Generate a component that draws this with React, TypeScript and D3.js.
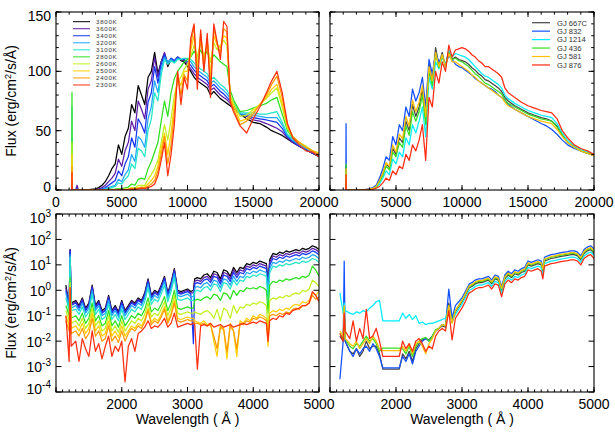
import React from "react";
import * as d3 from "d3";

const FONT = '"Liberation Sans", Arial, Helvetica, sans-serif';

// ---------- names / colours ----------
const modelNames = ["3800K", "3600K", "3400K", "3200K", "3100K", "2800K", "2600K", "2500K", "2400K", "2300K"];
const modelColors = ["#000000", "#5c1ea8", "#1634f0", "#1ea6ff", "#22e6c8", "#2ee020", "#c2f01e", "#ffd000", "#ff9a00", "#ff3010"];
const starNames = ["GJ 667C", "GJ 832", "GJ 1214", "GJ 436", "GJ 581", "GJ 876"];
const starColors = ["#444444", "#1250ff", "#00eeff", "#36e020", "#ffbe00", "#ff2a10"];

// ---------- optical / NIR grid (Angstrom) ----------
const wlTop = [1150, 1200, 1216, 1235, 1500, 1600, 1700, 2500,
  3000, 3250, 3500, 3750, 4000, 4250, 4500, 4750, 5000, 5250, 5500, 5750, 6000, 6250, 6500, 6750,
  7000, 7250, 7500, 7750, 8000, 8250, 8500, 8750, 9000, 9250, 9500, 9750, 10000, 10250, 10500, 10750,
  11000, 11250, 11500, 11750, 12000, 12250, 12500, 12750, 13000, 13250, 13500,
  14000, 14500, 15000, 15500, 16000, 16400, 16800, 17200, 17600, 18000, 18500, 19000, 19500, 20000];

// model fluxes (linear)
const f3800 = [0, 0, 5, 0, 0, 0.5, 0, 0.3,
  1, 2, 4, 7, 12, 18, 22, 38, 30, 45, 52, 72, 65, 88, 80, 72, 95, 100, 116, 98, 108, 115, 104, 110, 108, 112, 109, 108, 104, 100, 95, 92, 90, 88, 86, 80, 83, 80, 77, 75, 73, 71, 69,
  64, 60, 57, 56, 53, 50, 48, 46, 43, 40, 37, 34, 31, 28];
const f3600 = [0, 0, 8, 0, 0, 4, 0, 0.2,
  0.5, 1, 2, 4, 7, 10, 14, 26, 20, 33, 40, 58, 50, 75, 68, 60, 85, 92, 112, 95, 108, 116, 106, 111, 109, 112, 110, 109, 106, 102, 98, 95, 93, 91, 89, 84, 86, 83, 80, 78, 76, 73, 70,
  64, 62, 59, 58, 56, 54, 52, 49, 44, 40, 37, 34, 31, 29];
const f3400 = [0, 0, 10, 0, 0, 1, 0, 0.1,
  0.3, 0.6, 1, 2, 4, 6, 8, 16, 12, 22, 28, 44, 36, 60, 55, 48, 74, 82, 104, 90, 106, 114, 107, 111, 109, 112, 110, 110, 108, 105, 101, 98, 96, 94, 92, 87, 89, 86, 83, 81, 78, 75, 72,
  64, 63, 61, 60, 59, 58, 57, 52, 45, 41, 37, 34, 31, 29];
const f3200 = [0, 0, 20, 0, 0, 0.5, 0, 0.1,
  0.2, 0.3, 0.6, 1, 2, 3, 4, 9, 7, 13, 17, 30, 24, 45, 42, 36, 60, 70, 92, 82, 102, 112, 108, 110, 108, 111, 110, 111, 110, 108, 104, 101, 99, 97, 95, 90, 92, 89, 86, 84, 81, 77, 73,
  64, 64, 63, 62, 61, 61, 61, 55, 46, 42, 38, 35, 32, 30];
const f3100 = [0, 0, 70, 0, 0, 0.3, 0, 0,
  0.1, 0.2, 0.4, 0.7, 1.2, 2, 3, 6, 5, 9, 12, 22, 18, 35, 33, 28, 50, 60, 82, 75, 97, 110, 106, 109, 107, 110, 110, 111, 111, 110, 107, 104, 102, 100, 98, 93, 95, 92, 89, 87, 84, 79, 74,
  65, 65, 65, 64, 64, 65, 66, 57, 47, 43, 39, 36, 33, 30];
const f2800 = [0, 0, 82, 0, 0, 0.2, 0, 0,
  0, 0, 0.1, 0.2, 0.3, 0.5, 0.7, 1.2, 1, 1.8, 2.5, 5, 4, 9, 10, 9, 18, 24, 32, 40, 58, 75, 62, 82, 94, 100, 104, 108, 110, 112, 117, 113, 118, 112, 117, 108, 114, 111, 108, 106, 104, 84, 76,
  66, 67, 69, 71, 73, 76, 78, 64, 50, 44, 40, 36, 33, 31];
const f2600 = [0, 0, 40, 0, 0, 0, 0, 0,
  0, 0, 0, 0.1, 0.1, 0.2, 0.3, 0.5, 0.4, 0.7, 1, 2, 1.5, 4, 4, 4, 9, 13, 18, 25, 40, 55, 42, 60, 80, 92, 95, 102, 106, 113, 122, 112, 124, 113, 122, 108, 124, 118, 122, 126, 122, 80, 73,
  62, 63, 68, 72, 77, 82, 86, 70, 52, 45, 40, 37, 33, 31];
const f2500 = [0, 0, 30, 0, 0, 0, 0, 0,
  0, 0, 0, 0, 0.1, 0.1, 0.2, 0.4, 0.3, 0.6, 0.8, 1.6, 1.2, 2, 2.5, 2.5, 5, 8, 12, 20, 35, 48, 30, 48, 72, 95, 88, 100, 100, 118, 130, 105, 130, 108, 125, 98, 130, 122, 120, 130, 128, 78, 71,
  58, 60, 66, 72, 78, 85, 89, 73, 53, 45, 40, 36, 33, 31];
const f2400 = [0, 0, 20, 0, 0, 0, 0, 0,
  0, 0, 0, 0, 0, 0.1, 0.1, 0.3, 0.2, 0.4, 0.6, 1.2, 0.8, 1.5, 2, 1.8, 3, 5, 8, 16, 30, 45, 22, 38, 65, 98, 80, 97, 92, 122, 138, 95, 132, 102, 128, 88, 136, 124, 115, 136, 133, 76, 68,
  55, 58, 64, 72, 80, 89, 96, 78, 55, 45, 40, 36, 33, 30];
const f2300 = [0, 0, 15, 0, 0, 0, 0, 0,
  0, 0, 0, 0, 0, 0, 0.1, 0.2, 0.1, 0.3, 0.4, 0.8, 0.5, 1, 1.5, 1.2, 2, 3, 5, 12, 25, 40, 12, 30, 55, 100, 72, 95, 85, 128, 140, 85, 135, 100, 132, 78, 140, 125, 110, 142, 138, 74, 66,
  54, 48, 60, 70, 82, 92, 100, 82, 56, 44, 38, 33, 32, 28];

// star fluxes (linear)
const s667 = [0, 0, 20, 0, 0, 0, 0, 0.2,
  0.8, 1.5, 3, 8, 14, 22, 19, 35, 30, 44, 40, 58, 50, 72, 62, 70, 85, 60, 106, 92, 120, 105, 116, 104, 117, 110, 112, 110, 109, 108, 106, 103, 101, 98, 96, 93, 92, 90, 88, 86, 83, 78, 75,
  71, 68, 65, 63, 61, 60, 58, 54, 46, 40, 36, 33, 31, 29];
const s832 = [0, 0, 56, 0, 0, 0, 0, 0.2,
  1, 2, 4, 10, 18, 28, 25, 45, 38, 55, 50, 70, 62, 85, 75, 82, 95, 70, 110, 98, 115, 108, 112, 106, 113, 110, 106, 104, 103, 101, 99, 97, 94, 92, 90, 88, 86, 85, 83, 80, 78, 76, 72,
  68, 65, 62, 59, 56, 54, 51, 47, 42, 38, 35, 33, 31, 29];
const s1214 = [0, 0, 15, 0, 0, 0, 0, 0.1,
  0.5, 1, 2, 5, 10, 16, 13, 26, 22, 32, 28, 44, 38, 55, 48, 58, 70, 45, 95, 85, 108, 102, 112, 105, 118, 112, 115, 114, 113, 112, 110, 107, 104, 101, 98, 96, 95, 93, 91, 89, 86, 80, 77,
  73, 70, 67, 65, 63, 62, 61, 56, 48, 42, 37, 34, 32, 29];
const s436 = [0, 0, 22, 0, 0, 0, 0, 0.1,
  0.6, 1.2, 2.5, 7, 12, 20, 17, 32, 28, 40, 36, 54, 46, 66, 58, 66, 80, 55, 100, 88, 115, 103, 114, 104, 116, 110, 111, 109, 108, 106, 104, 101, 98, 96, 93, 90, 89, 87, 85, 83, 81, 76, 73,
  70, 67, 64, 62, 60, 59, 58, 53, 46, 40, 36, 33, 31, 29];
const s581 = [0, 0, 18, 0, 0, 0, 0, 0.1,
  0.7, 1.4, 3, 8, 14, 23, 20, 38, 32, 47, 43, 62, 54, 76, 66, 74, 88, 62, 104, 92, 116, 104, 114, 104, 115, 108, 108, 106, 104, 102, 100, 97, 95, 92, 90, 88, 86, 84, 82, 80, 78, 74, 71,
  68, 65, 62, 60, 58, 57, 56, 51, 45, 40, 36, 33, 31, 29];
const s876 = [0, 0, 13, 0, 0, 0, 0, 0.1,
  0.3, 0.6, 1.5, 3, 6, 10, 8, 16, 13, 20, 18, 30, 25, 38, 33, 42, 55, 25, 78, 70, 100, 90, 108, 100, 122, 112, 118, 119, 120, 119, 117, 114, 112, 109, 107, 104, 104, 102, 100, 98, 95, 86, 82,
  78, 74, 71, 69, 67, 66, 65, 60, 50, 44, 38, 35, 33, 30];

// ---------- UV grid (Angstrom) ----------
const wlUV = [1150, 1200, 1215, 1230,
  1300, 1350, 1400, 1450, 1500, 1550, 1600, 1650, 1700, 1750, 1800, 1850, 1900, 1950, 2000, 2050,
  2100, 2150, 2200, 2250, 2300, 2350, 2400, 2450, 2500, 2550, 2600, 2650, 2700, 2750, 2800, 2850, 2900, 2950, 3000, 3050,
  3090, 3110,
  3150, 3200, 3250, 3300, 3350, 3400, 3450, 3500, 3550, 3600, 3650, 3700, 3750, 3800, 3850, 3900, 3950, 4000, 4050, 4100, 4150, 4200,
  4225,
  4250, 4300, 4350, 4400, 4450, 4500, 4550, 4600, 4650, 4700, 4750, 4800, 4850, 4900, 4950, 5000];

// model log10 fluxes
const lg3800 = [0.2, -0.6, 1.6, -0.5,
  -0.4, -0.6, -0.3, -0.7, -0.5, 0.2, -0.6, -0.4, -0.8, -0.7, -0.2, -0.8, -0.6, -0.85, -0.4, -0.8,
  -0.6, -0.4, -0.5, -0.3, -0.4, -0.1, 0.45, -0.2, 0.0, -0.1, 0.2, 0.55, -0.1, 0.3, 0.85, 0.0, -0.05, 0.0, 0.05, -0.05,
  0.0, 0.45,
  0.5, 0.45, 0.6, 0.65, 0.5, 0.75, 0.7, 0.45, 0.8, 0.75, 0.55, 0.9, 0.7, 0.9, 0.85, 1.05, 1.0, 1.1, 1.05, 1.15, 1.1, 1.05,
  0.2,
  1.2, 1.45, 1.4, 1.5, 1.45, 1.55, 1.5, 1.55, 1.6, 1.55, 1.65, 1.6, 1.65, 1.75, 1.7, 1.6];
const lg3600 = [0.1, -0.6, 1.6, -0.55,
  -0.45, -0.65, -0.35, -0.75, -0.55, 0.15, -0.65, -0.45, -0.85, -0.75, -0.25, -0.85, -0.65, -0.9, -0.45, -0.85,
  -0.65, -0.45, -0.55, -0.35, -0.45, -0.15, 0.4, -0.25, -0.05, -0.15, 0.15, 0.5, -0.15, 0.25, 0.8, -0.05, -0.1, -0.05, 0.0, -0.1,
  -0.1, 0.35,
  0.4, 0.35, 0.5, 0.55, 0.4, 0.65, 0.6, 0.35, 0.7, 0.65, 0.45, 0.8, 0.6, 0.8, 0.75, 0.95, 0.9, 1.0, 0.95, 1.05, 1.0, 0.95,
  0.1,
  1.1, 1.35, 1.3, 1.4, 1.35, 1.45, 1.4, 1.45, 1.5, 1.45, 1.55, 1.5, 1.55, 1.65, 1.6, 1.5];
const lg3400 = [0.0, -0.65, 1.55, -0.6,
  -0.5, -0.7, -0.4, -0.8, -0.6, 0.1, -0.7, -0.5, -0.9, -0.8, -0.3, -0.9, -0.7, -0.95, -0.5, -0.9,
  -0.7, -0.5, -0.6, -0.4, -0.5, -0.2, 0.35, -0.3, -0.1, -0.2, 0.1, 0.45, -0.2, 0.2, 0.75, -0.1, -0.15, -0.1, -0.05, -0.15,
  -2.1, 0.25,
  0.3, 0.25, 0.4, 0.45, 0.3, 0.55, 0.5, 0.25, 0.6, 0.55, 0.35, 0.7, 0.5, 0.7, 0.65, 0.85, 0.8, 0.9, 0.85, 0.95, 0.9, 0.85,
  0.0,
  1.0, 1.25, 1.2, 1.3, 1.25, 1.35, 1.3, 1.35, 1.4, 1.35, 1.45, 1.4, 1.45, 1.55, 1.5, 1.4];
const lg3200 = [-0.1, -0.7, 1.4, -0.7,
  -0.6, -0.8, -0.5, -0.9, -0.7, 0.0, -0.8, -0.6, -1.0, -0.9, -0.4, -1.0, -0.8, -1.05, -0.6, -1.0,
  -0.8, -0.6, -0.7, -0.5, -0.6, -0.3, 0.25, -0.4, -0.2, -0.3, 0.0, 0.35, -0.3, 0.1, 0.65, -0.2, -0.25, -0.2, -0.15, -0.25,
  -0.25, 0.1,
  0.15, 0.1, 0.25, 0.3, 0.15, 0.4, 0.35, 0.1, 0.45, 0.4, 0.2, 0.55, 0.35, 0.55, 0.5, 0.7, 0.65, 0.75, 0.7, 0.8, 0.75, 0.7,
  -0.2,
  0.85, 1.1, 1.05, 1.15, 1.1, 1.2, 1.15, 1.2, 1.25, 1.2, 1.3, 1.25, 1.3, 1.4, 1.35, 1.25];
const lg3100 = [-0.3, -0.8, 1.3, -0.8,
  -0.75, -0.95, -0.65, -1.05, -0.85, -0.15, -0.95, -0.75, -1.15, -1.05, -0.55, -1.15, -0.95, -1.2, -0.75, -1.15,
  -0.95, -0.75, -0.85, -0.65, -0.75, -0.45, 0.1, -0.55, -0.35, -0.45, -0.15, 0.2, -0.45, -0.05, 0.5, -0.35, -0.4, -0.35, -0.3, -0.4,
  -0.4, -0.05,
  0.0, -0.05, 0.1, 0.15, 0.0, 0.25, 0.2, -0.05, 0.3, 0.25, 0.05, 0.4, 0.2, 0.4, 0.35, 0.55, 0.5, 0.6, 0.55, 0.65, 0.6, 0.55,
  -0.4,
  0.7, 0.95, 0.9, 1.0, 0.95, 1.05, 1.0, 1.05, 1.1, 1.05, 1.15, 1.1, 1.15, 1.25, 1.2, 1.1];
const lg2800 = [-0.6, -1.0, 0.5, -1.1,
  -1.0, -1.2, -0.9, -1.3, -1.1, -0.5, -1.2, -1.0, -1.4, -1.3, -0.8, -1.4, -1.2, -1.45, -1.0, -1.4,
  -1.2, -1.0, -1.1, -0.9, -1.0, -0.75, -0.3, -0.85, -0.7, -0.8, -0.55, -0.25, -0.8, -0.5, 0.0, -0.7, -0.75, -0.7, -0.65, -0.7,
  -0.7, -0.4,
  -0.35, -0.4, -0.3, -0.25, -0.35, -0.15, -0.2, -0.4, -0.1, -0.15, -0.35, 0.0, -0.2, 0.0, -0.05, 0.1, 0.05, 0.1, 0.05, 0.15, 0.1, 0.0,
  -0.9,
  0.2, 0.35, 0.3, 0.4, 0.35, 0.45, 0.4, 0.45, 0.5, 0.45, 0.55, 0.5, 0.6, 0.95, 0.8, 0.55];
const lg2600 = [-0.8, -1.2, 0.3, -1.3,
  -1.2, -1.4, -1.1, -1.5, -1.3, -0.7, -1.4, -1.2, -1.6, -1.5, -1.0, -1.6, -1.4, -1.65, -1.2, -1.6,
  -1.4, -1.2, -1.3, -1.1, -1.2, -0.95, -0.5, -1.05, -0.9, -1.0, -0.75, -0.45, -1.0, -0.7, -0.2, -0.9, -0.95, -0.9, -0.85, -0.9,
  -0.9, -0.85,
  -0.9, -0.95, -0.85, -0.8, -0.9, -1.1, -0.75, -1.2, -0.7, -0.8, -1.1, -0.6, -0.9, -0.65, -0.7, -0.55, -0.6, -0.5, -0.55, -0.45, -0.5, -0.6,
  -1.6,
  -0.4, -0.3, -0.35, -0.25, -0.3, -0.2, -0.25, -0.15, -0.1, -0.15, 0.0, -0.05, 0.05, 0.4, 0.3, 0.15];
const lg2500 = [-1.0, -1.4, 0.1, -1.5,
  -1.4, -1.6, -1.3, -1.7, -1.5, -0.9, -1.6, -1.4, -1.8, -1.7, -1.2, -1.8, -1.6, -1.85, -1.4, -1.8,
  -1.6, -1.4, -1.5, -1.3, -1.4, -1.15, -0.7, -1.25, -1.1, -1.2, -0.95, -0.65, -1.2, -0.9, -0.4, -1.1, -1.15, -1.1, -1.05, -1.1,
  -1.1, -1.2,
  -1.25, -1.3, -1.2, -1.35, -1.3, -2.0, -2.6, -1.4, -1.5, -2.7, -1.3, -1.6, -2.6, -1.2, -1.3, -1.1, -1.2, -1.0, -1.1, -0.95, -1.0, -1.1,
  -2.2,
  -0.9, -0.8, -0.85, -0.75, -0.8, -0.7, -0.75, -0.6, -0.55, -0.6, -0.45, -0.5, -0.4, -0.1, -0.2, -0.05];
const lg2400 = [-1.2, -1.6, 0.0, -1.7,
  -1.6, -1.8, -1.5, -1.9, -1.7, -1.1, -1.8, -1.6, -2.0, -1.9, -1.4, -2.0, -1.8, -2.05, -1.6, -2.0,
  -1.7, -1.5, -1.6, -1.4, -1.5, -1.25, -0.8, -1.35, -1.2, -1.3, -1.05, -0.75, -1.3, -1.0, -0.5, -1.2, -1.25, -1.2, -1.15, -1.2,
  -1.2, -1.3,
  -1.3, -1.35, -1.3, -1.4, -1.35, -1.8, -2.3, -1.45, -1.55, -2.4, -1.4, -1.6, -2.3, -1.3, -1.35, -1.2, -1.25, -1.1, -1.15, -1.05, -1.1, -1.2,
  -2.0,
  -1.0, -0.95, -1.0, -0.9, -0.95, -0.85, -0.9, -0.75, -0.7, -0.75, -0.6, -0.6, -0.5, -0.2, -0.35, -0.25];
const lg2300 = [-1.0, -2.8, 0.1, -2.2,
  -2.0, -2.8, -1.9, -2.3, -2.6, -1.6, -2.4, -2.1, -2.7, -2.2, -1.8, -2.6, -2.2, -2.4, -2.0, -3.6,
  -2.2, -1.9, -2.4, -1.7, -1.6, -1.45, -1.2, -1.5, -1.4, -1.45, -1.3, -1.1, -1.45, -1.3, -0.9, -1.45, -1.4, -1.35, -1.3, -1.35,
  -1.3, -1.35,
  -3.1, -1.4, -1.35, -1.4, -1.3, -1.45, -1.4, -1.35, -1.45, -1.4, -1.35, -1.45, -1.4, -1.35, -1.3, -1.35, -1.3, -1.25, -1.3, -1.2, -1.25, -1.3,
  -2.0,
  -1.2, -1.1, -1.15, -1.0, -1.05, -0.9, -0.95, -0.8, -0.75, -0.7, -0.6, -0.6, -0.5, -0.05, -0.2, -0.45];

// star log10 fluxes
const lgS667 = [-1.8, -2.0, -0.8, -2.0,
  -2.4, -2.5, -2.3, -2.6, -2.4, -2.0, -2.3, -2.2, -2.2, -2.5, -3.1, -3.1, -3.1, -3.1, -3.1, -3.1,
  -2.5, -2.7, -2.4, -2.8, -2.3, -2.1, -1.95, -1.9, -1.95, -1.8, -1.6, -1.5, -1.4, -1.45, -0.5, -1.25, -0.85, -0.65, -0.45, -0.2,
  0.0, 0.1,
  0.15, 0.25, 0.3, 0.3, 0.35, 0.4, 0.25, 0.45, 0.4, 0.0, 0.45, 0.6, 0.5, 0.65, 0.6, 0.7, 0.75, 1.0, 0.95, 1.0, 1.05, 1.0,
  0.75,
  1.15, 1.2, 1.25, 1.27, 1.3, 1.33, 1.35, 1.37, 1.4, 1.4, 1.35, 1.2, 1.45, 1.55, 1.6, 1.45];
const lgS832 = [-3.5, -2.0, 1.15, -2.0,
  -2.4, -2.6, -2.3, -2.5, -2.3, -2.2, -2.4, -2.1, -2.3, -2.6, -3.05, -3.05, -3.05, -3.05, -3.05, -3.05,
  -2.6, -2.8, -2.5, -2.9, -2.4, -2.2, -2.0, -1.9, -2.0, -1.8, -1.6, -1.5, -1.35, -1.4, 0.05, -1.1, -0.6, -0.45, -0.3, -0.05,
  0.15, 0.25,
  0.3, 0.4, 0.45, 0.45, 0.5, 0.55, 0.4, 0.6, 0.55, 0.15, 0.6, 0.75, 0.65, 0.8, 0.75, 0.85, 0.9, 1.15, 1.1, 1.15, 1.2, 1.15,
  0.9,
  1.3, 1.35, 1.4, 1.42, 1.45, 1.48, 1.5, 1.52, 1.55, 1.55, 1.5, 1.35, 1.6, 1.7, 1.75, 1.62];
const lgS1214 = [-0.1, -0.9, -0.5, -0.8,
  -0.9, -0.95, -0.85, -0.9, -0.8, -0.85, -0.7, -0.6, -0.45, -0.4, -1.2, -1.2, -1.2, -1.2, -1.2, -1.2,
  -0.9, -1.1, -0.95, -1.15, -1.0, -1.3, -1.25, -1.35, -1.3, -1.3, -1.25, -1.2, -1.15, -1.1, -0.7, -1.25, -0.95, -0.75, -0.55, -0.3,
  -0.1, 0.0,
  0.05, 0.15, 0.2, 0.2, 0.25, 0.3, 0.15, 0.35, 0.3, -0.1, 0.35, 0.5, 0.4, 0.55, 0.5, 0.6, 0.65, 0.9, 0.85, 0.9, 0.95, 0.9,
  0.6,
  1.05, 1.1, 1.15, 1.17, 1.2, 1.23, 1.25, 1.27, 1.3, 1.3, 1.25, 1.1, 1.35, 1.45, 1.5, 1.38];
const lgS436 = [-1.7, -1.9, -0.7, -1.9,
  -2.2, -2.3, -2.1, -2.2, -2.0, -1.8, -2.0, -1.9, -2.1, -2.4, -2.27, -2.27, -2.27, -2.27, -2.27, -2.27,
  -2.3, -2.5, -2.2, -2.6, -2.2, -2.0, -1.9, -1.85, -2.0, -1.8, -1.55, -1.5, -1.35, -1.4, -0.6, -1.25, -0.8, -0.6, -0.4, -0.15,
  0.05, 0.15,
  0.2, 0.3, 0.35, 0.35, 0.4, 0.45, 0.3, 0.5, 0.45, 0.05, 0.5, 0.65, 0.55, 0.7, 0.65, 0.75, 0.8, 1.05, 1.0, 1.05, 1.1, 1.05,
  0.8,
  1.2, 1.25, 1.3, 1.32, 1.35, 1.38, 1.4, 1.42, 1.45, 1.45, 1.4, 1.25, 1.5, 1.6, 1.65, 1.5];
const lgS581 = [-1.6, -1.8, -0.6, -1.9,
  -2.1, -2.2, -2.0, -2.3, -2.1, -1.9, -2.1, -1.8, -2.0, -2.3, -2.37, -2.37, -2.37, -2.37, -2.37, -2.37,
  -2.2, -2.4, -2.1, -2.5, -2.1, -2.0, -2.2, -2.5, -2.1, -1.9, -1.6, -1.5, -1.35, -1.4, -0.6, -1.3, -0.8, -0.6, -0.4, -0.15,
  0.08, 0.18,
  0.23, 0.33, 0.38, 0.38, 0.43, 0.48, 0.33, 0.53, 0.48, 0.08, 0.53, 0.68, 0.58, 0.73, 0.68, 0.78, 0.83, 1.08, 1.03, 1.08, 1.13, 1.08,
  0.83,
  1.23, 1.28, 1.33, 1.35, 1.38, 1.41, 1.43, 1.45, 1.48, 1.48, 1.43, 1.28, 1.53, 1.63, 1.68, 1.55];
const lgS876 = [-1.7, -2.0, -0.9, -1.6,
  -1.9, -1.2, -2.0, -1.5, -1.9, -0.75, -1.9, -1.8, -1.5, -2.0, -2.6, -2.6, -2.6, -2.6, -2.6, -2.6,
  -2.0, -2.3, -2.1, -2.4, -2.0, -1.9, -2.1, -2.4, -2.2, -2.3, -1.8, -1.6, -1.5, -1.6, -0.8, -1.95, -1.1, -0.9, -0.7, -0.45,
  -0.2, -0.1,
  -0.05, 0.05, 0.1, 0.1, 0.15, 0.2, 0.05, 0.25, 0.2, -0.25, 0.25, 0.4, 0.3, 0.45, 0.4, 0.5, 0.55, 0.8, 0.75, 0.8, 0.85, 0.75,
  0.45,
  0.95, 1.0, 1.05, 1.07, 1.1, 1.13, 1.15, 1.17, 1.2, 1.2, 1.15, 1.0, 1.25, 1.35, 1.4, 1.25];

// ---------- ticks ----------
const topXMajor = [0, 5000, 10000, 15000, 20000];
const topYMajor = [0, 50, 100, 150];
const uvXMajor = [1000, 2000, 3000, 4000, 5000];
const uvYMajor = [1e-4, 1e-3, 1e-2, 1e-1, 1, 10, 100, 1000];

const modelsTop = [f3800, f3600, f3400, f3200, f3100, f2800, f2600, f2500, f2400, f2300];
const starsTop = [s667, s832, s1214, s436, s581, s876];
const toFlux = (a: number[]) => a.map((v) => Math.pow(10, v));
const modelsUV = [lg3800, lg3600, lg3400, lg3200, lg3100, lg2800, lg2600, lg2500, lg2400, lg2300].map(toFlux);
const starsUV = [lgS667, lgS832, lgS1214, lgS436, lgS581, lgS876].map(toFlux);

type PanelProps = {
  id: string;
  x0: number; x1: number; y0: number; y1: number;
  xDomain: [number, number]; yDomain: [number, number];
  log: boolean;
  wl: number[];
  series: number[][];
  colors: string[];
  xMajor: number[]; xMinorStep: number;
  xLabels: number[];
  yMajor: number[]; yMinorStep: number | null;
  showYLabels: boolean;
};

function fmtExp(v: number) {
  const e = Math.round(Math.log10(v));
  return e < 0 ? "-" + Math.abs(e) : String(e);
}

function Panel(p: PanelProps) {
  const xs = d3.scaleLinear().domain(p.xDomain).range([p.x0, p.x1]);
  const ys: any = p.log
    ? d3.scaleLog().domain(p.yDomain).range([p.y1, p.y0])
    : d3.scaleLinear().domain(p.yDomain).range([p.y1, p.y0]);
  const clipId = "clip-" + p.id;
  const line = d3.line<[number, number]>().x((d) => xs(d[0])).y((d) => ys(d[1]));

  const xMinor = d3.range(p.xDomain[0], p.xDomain[1] + 0.5, p.xMinorStep);
  const yMinor = p.yMinorStep ? d3.range(p.yDomain[0], p.yDomain[1] + 0.01, p.yMinorStep) : [];
  const tk: JSX.Element[] = [];
  const XM = 5, Xm = 2.6, YM = 5.5, Ym = 2.8;
  xMinor.forEach((v, i) => {
    const x = xs(v);
    tk.push(<line key={"xm" + i} x1={x} x2={x} y1={p.y1} y2={p.y1 - Xm} />);
    tk.push(<line key={"xmt" + i} x1={x} x2={x} y1={p.y0} y2={p.y0 + Xm} />);
  });
  p.xMajor.forEach((v, i) => {
    const x = xs(v);
    tk.push(<line key={"xM" + i} x1={x} x2={x} y1={p.y1} y2={p.y1 - XM} />);
    tk.push(<line key={"xMt" + i} x1={x} x2={x} y1={p.y0} y2={p.y0 + XM} />);
  });
  yMinor.forEach((v, i) => {
    const y = ys(v);
    tk.push(<line key={"ym" + i} x1={p.x0} x2={p.x0 + Ym} y1={y} y2={y} />);
    tk.push(<line key={"ymr" + i} x1={p.x1} x2={p.x1 - Ym} y1={y} y2={y} />);
  });
  p.yMajor.forEach((v, i) => {
    const y = ys(v);
    tk.push(<line key={"yM" + i} x1={p.x0} x2={p.x0 + YM} y1={y} y2={y} />);
    tk.push(<line key={"yMr" + i} x1={p.x1} x2={p.x1 - YM} y1={y} y2={y} />);
  });

  return (
    <g>
      <defs>
        <clipPath id={clipId}>
          <rect x={p.x0} y={p.y0} width={p.x1 - p.x0} height={p.y1 - p.y0} />
        </clipPath>
      </defs>
      <g clipPath={`url(#${clipId})`}>
        {p.series.map((vals, k) => {
          const n = Math.min(vals.length, p.wl.length);
          const pts: [number, number][] = d3.range(n).map((i) => [p.wl[i], vals[i]] as [number, number]);
          return (
            <path key={k} d={line(pts) || ""} fill="none" stroke={p.colors[k]}
              strokeWidth={1.25} strokeLinejoin="round" />
          );
        })}
      </g>
      <g stroke="#000" strokeWidth={1}>{tk}</g>
      <rect x={p.x0} y={p.y0} width={p.x1 - p.x0} height={p.y1 - p.y0} fill="none" stroke="#000" strokeWidth={1.1} />
      <g fontFamily={FONT} fontSize={14} fill="#000">
        {p.xLabels.map((v, i) => (
          <text key={"xl" + i} x={xs(v)} y={p.y1 + 17} textAnchor="middle">{v}</text>
        ))}
        {p.showYLabels && p.yMajor.map((v, i) => {
          const yc = Math.max(p.y0 + 3.5, Math.min(p.y1 - 3.5, ys(v)));
          return p.log ? (
            <text key={"yl" + i} x={p.x0 - 5} y={yc + 5.5} textAnchor="end">
              10<tspan dy={-6} fontSize={10}>{fmtExp(v)}</tspan>
            </text>
          ) : (
            <text key={"yl" + i} x={p.x0 - 5} y={yc + 5} textAnchor="end">{v}</text>
          );
        })}
      </g>
    </g>
  );
}

export default function App() {
  const L: [number, number] = [56, 319];
  const R: [number, number] = [330, 594];
  const T: [number, number] = [12, 190];
  const B: [number, number] = [214, 392];

  const common = { xMinorStep: 1000, yMinorStep: 10 };
  return (
    <svg width={615} height={433} style={{ position: "absolute", left: 0, top: 0, background: "#fff" }}>
      <rect x={0} y={0} width={615} height={433} fill="#fff" />
      <Panel id="tl" x0={L[0]} x1={L[1]} y0={T[0]} y1={T[1]} xDomain={[0, 20000]} yDomain={[0, 150]}
        log={false} wl={wlTop} series={modelsTop} colors={modelColors}
        xMajor={topXMajor} xLabels={topXMajor} yMajor={topYMajor} showYLabels={true} {...common} />
      <Panel id="tr" x0={R[0]} x1={R[1]} y0={T[0]} y1={T[1]} xDomain={[0, 20000]} yDomain={[0, 150]}
        log={false} wl={wlTop} series={starsTop} colors={starColors}
        xMajor={topXMajor} xLabels={topXMajor.slice(1)} yMajor={topYMajor} showYLabels={false} {...common} />
      <Panel id="bl" x0={L[0]} x1={L[1]} y0={B[0]} y1={B[1]} xDomain={[1000, 5000]} yDomain={[1e-4, 1e3]}
        log={true} wl={wlUV} series={modelsUV} colors={modelColors}
        xMajor={uvXMajor} xMinorStep={100} xLabels={uvXMajor.slice(1)} yMajor={uvYMajor} yMinorStep={null} showYLabels={true} />
      <Panel id="br" x0={R[0]} x1={R[1]} y0={B[0]} y1={B[1]} xDomain={[1000, 5000]} yDomain={[1e-4, 1e3]}
        log={true} wl={wlUV} series={starsUV} colors={starColors}
        xMajor={uvXMajor} xMinorStep={100} xLabels={uvXMajor.slice(1)} yMajor={uvYMajor} yMinorStep={null} showYLabels={false} />

      {/* legends */}
      <g fontFamily={FONT} fill="#333">
        {modelNames.map((n, i) => {
          const y = 21.7 + i * 7.03;
          return (
            <g key={n}>
              <line x1={73} x2={90} y1={y} y2={y} stroke={modelColors[i]} strokeWidth={1} />
              <text x={96} y={y + 2.4} fontSize={6.2} letterSpacing={0.7}>{n}</text>
            </g>
          );
        })}
        {starNames.map((n, i) => {
          const y = 22.7 + i * 8.45;
          return (
            <g key={n}>
              <line x1={532} x2={550} y1={y} y2={y} stroke={starColors[i]} strokeWidth={1.2} />
              <text x={557} y={y + 2.8} fontSize={7.6}>{n}</text>
            </g>
          );
        })}
      </g>

      {/* axis titles */}
      <g fontFamily={FONT} fontSize={14} fill="#000">
        {[(T[0] + T[1]) / 2, (B[0] + B[1]) / 2].map((cy, i) => (
          <text key={"yt" + i} transform={`translate(15.5,${cy}) rotate(-90)`} textAnchor="middle">
            Flux (erg/cm<tspan dy={-5} fontSize={9}>2</tspan><tspan dy={5}>/s/Å)</tspan>
          </text>
        ))}
        <text x={(L[0] + L[1]) / 2} y={424} textAnchor="middle">Wavelength ( Å )</text>
        <text x={(R[0] + R[1]) / 2} y={424} textAnchor="middle">Wavelength ( Å )</text>
      </g>
    </svg>
  );
}
